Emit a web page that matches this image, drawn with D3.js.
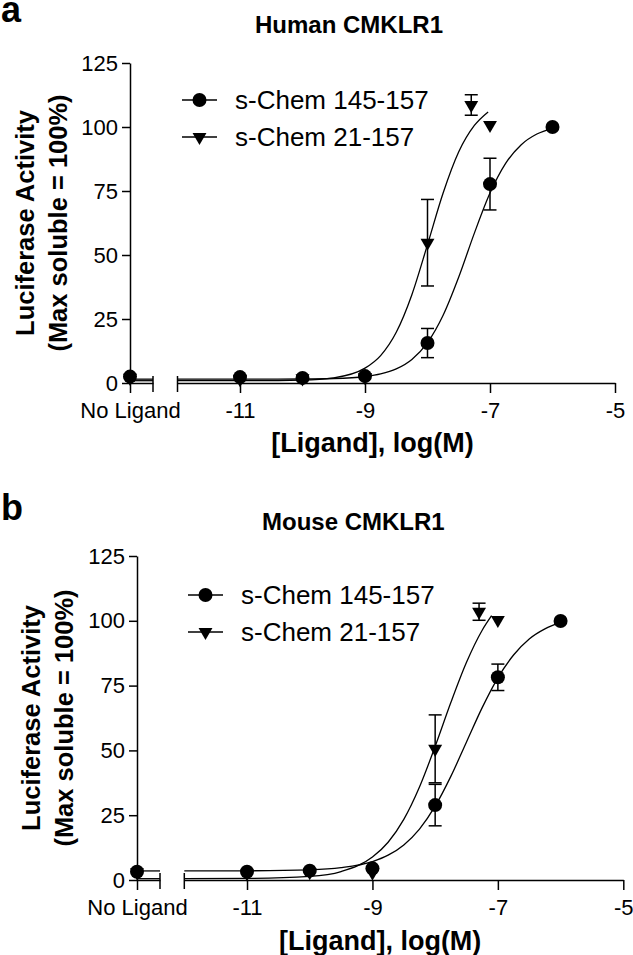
<!DOCTYPE html>
<html><head><meta charset="utf-8">
<script src="https://cdn.jsdelivr.net/npm/d3@7"></script>
<style>
html,body{margin:0;padding:0;background:#fff;}
text{font-family:"Liberation Sans",Arial,Helvetica,sans-serif;fill:#000;}
</style></head>
<body>
<svg id="chart" width="633" height="955"></svg>
<script>
// ---------- data ----------
const seriesNames = ["s-Chem 145-157", "s-Chem 21-157"];
const panelTitles = ["Human CMKLR1", "Mouse CMKLR1"];
const panelLetters = ["a", "b"];
const yTicks = [0, 25, 50, 75, 100, 125];
const xTicks = [-11, -9, -7, -5];
const noLigandLabel = "No Ligand";
const yTitleLines = ["Luciferase Activity", "(Max soluble = 100%)"];
const xTitle = "[Ligand], log(M)";

const concChem145 = [-11, -10, -9, -8, -7, -6];
const concChem21  = [-11, -10, -9, -8, -7.3, -7];

const humanNoLigand    = [2.5, 2.0];            // [145-157, 21-157]
const humanChem145Mean = [2.3, 2.0, 2.7, 15.6, 77.7, 100];
const humanChem145Err  = [0, 0, 0, 5.7, 10.1, 0];
const humanChem21Mean  = [1.5, 1.8, 2.3, 54.8, 108.6, 100.8];
const humanChem21Err   = [0, 0, 0, 16.9, 4.0, 0];

const mouseNoLigand    = [3.2, 3.0];
const mouseChem145Mean = [3.2, 3.6, 4.5, 28.9, 78.2, 99.9];
const mouseChem145Err  = [0, 0, 0, 8.0, 5.1, 0];
const mouseChem21Mean  = [2.5, 3.0, 2.8, 50.6, 103.5, 100.3];
const mouseChem21Err   = [0, 0, 0, 13.1, 3.3, 0];

// fitted curves
const humanCurve145X = [-12, -11, -10, -9.5, -9, -8.75, -8.5, -8.25, -8, -7.75, -7.5, -7.25, -7, -6.75, -6.5, -6.25, -6];
const humanCurve145Y = [1.5, 1.5, 1.57, 1.76, 2.54, 3.55, 5.51, 9.21, 15.77, 26.46, 41.4, 58.55, 74.2, 85.8, 93.1, 97.26, 99.5];
const humanCurve21X  = [-12, -11, -10, -9.5, -9, -8.75, -8.5, -8.25, -8, -7.75, -7.5, -7.25, -7.03];
const humanCurve21Y  = [0.9, 0.9, 1.16, 2.03, 5.8, 10.7, 19.8, 34.5, 54.05, 74.2, 90.3, 100.6, 105.9];

const mouseCurve145X = [-12, -11, -10, -9.5, -9, -8.75, -8.5, -8.25, -8, -7.75, -7.5, -7.25, -7, -6.75, -6.5, -6.25, -6];
const mouseCurve145Y = [3.5, 3.55, 3.92, 4.74, 7.1, 9.57, 13.54, 19.65, 28.47, 39.97, 53.25, 66.5, 78.0, 86.8, 93.0, 96.9, 99.4];
const mouseCurve21X  = [-12, -11, -10, -9.5, -9, -8.75, -8.5, -8.25, -8, -7.75, -7.5, -7.25, -7.1];
const mouseCurve21Y  = [0.51, 0.59, 1.39, 3.27, 8.84, 14.57, 23.38, 35.88, 51.54, 68.45, 83.99, 96.36, 101.96];

// ---------- layout ----------
const layouts = [
  {x0:130, seg1End:153, seg2Start:177.5, seg2End:615, yTop:63, yBottom:383,
   titleX:255, titleY:33, letterY:22, legendX:182, legendY:100, yTitleX:[34,67], xTitleY:452},
  {x0:137, seg1End:160, seg2Start:184.3, seg2End:623.3, yTop:556, yBottom:880,
   titleX:262, titleY:530, letterY:520, legendX:188, legendY:595, yTitleX:[40,73], xTitleY:950}
];

const panelData = [
  {noLig: humanNoLigand,
   series: [
     {x: concChem145, y: humanChem145Mean, e: humanChem145Err, cx: humanCurve145X, cy: humanCurve145Y, shape: "circle"},
     {x: concChem21,  y: humanChem21Mean,  e: humanChem21Err,  cx: humanCurve21X,  cy: humanCurve21Y,  shape: "triangle"}
   ]},
  {noLig: mouseNoLigand,
   series: [
     {x: concChem145, y: mouseChem145Mean, e: mouseChem145Err, cx: mouseCurve145X, cy: mouseCurve145Y, shape: "circle"},
     {x: concChem21,  y: mouseChem21Mean,  e: mouseChem21Err,  cx: mouseCurve21X,  cy: mouseCurve21Y,  shape: "triangle"}
   ]}
];

const svg = d3.select("#chart");
const SW = 1.5;
const triPath = d3.symbol().type(d3.symbolTriangle).size(84)();

function drawMarker(g, shape, x, y) {
  if (shape === "circle") {
    g.append("circle").attr("cx", x).attr("cy", y).attr("r", 7).attr("fill", "#000");
  } else {
    g.append("path").attr("d", triPath)
      .attr("transform", `translate(${x},${y}) rotate(180)`).attr("fill", "#000");
  }
}

layouts.forEach((L, pi) => {
  const P = panelData[pi];
  const g = svg.append("g");
  const y = d3.scaleLinear().domain([0, 125]).range([L.yBottom, L.yTop]);
  const x = d3.scaleLinear().domain([-12, -5]).range([L.seg2Start, L.seg2End]);
  const xNL = d3.scaleLinear().domain([0, 1]).range([L.x0, L.seg1End]);

  // y axis
  const yAx = g.append("g").attr("transform", `translate(${L.x0},0)`)
    .call(d3.axisLeft(y).tickValues(yTicks).tickSize(8).tickSizeOuter(0).tickPadding(4));
  // x axis segment 1 (No Ligand)
  const xAx1 = g.append("g").attr("transform", `translate(0,${L.yBottom})`)
    .call(d3.axisBottom(xNL).tickValues([0]).tickFormat(() => noLigandLabel).tickSize(10).tickSizeOuter(0).tickPadding(9));
  // x axis segment 2
  const xAx2 = g.append("g").attr("transform", `translate(0,${L.yBottom})`)
    .call(d3.axisBottom(x).tickValues(xTicks).tickFormat(d => String(d)).tickSize(10).tickSizeOuter(0).tickPadding(9));
  [yAx, xAx1, xAx2].forEach(a => {
    a.selectAll("path,line").attr("stroke", "#000").attr("stroke-width", SW);
    a.selectAll("text").style("font-size", "22px").attr("fill", "#000");
  });
  // break marks
  [xNL(1), x(-12)].forEach(bx => {
    g.append("line").attr("x1", bx).attr("x2", bx)
      .attr("y1", L.yBottom - 7).attr("y2", L.yBottom + 9)
      .attr("stroke", "#000").attr("stroke-width", SW);
  });

  // curves
  const line = d3.line().x(d => x(d[0])).y(d => y(d[1])).curve(d3.curveMonotoneX);
  P.series.forEach(s => {
    const pts = s.cx.map((v, i) => [v, s.cy[i]]);
    g.append("path").attr("d", line(pts)).attr("fill", "none")
      .attr("stroke", "#000").attr("stroke-width", 1.3);
    // continuation across the No Ligand segment
    g.append("line").attr("x1", xNL(0)).attr("x2", xNL(1))
      .attr("y1", y(s.cy[0])).attr("y2", y(s.cy[0]))
      .attr("stroke", "#000").attr("stroke-width", 1.3);
  });

  // error bars + markers (triangles first, circles on top)
  [1, 0].forEach(si => {
    const s = P.series[si];
    s.x.forEach((cv, i) => {
      const px = x(cv), m = s.y[i], e = s.e[i];
      if (e > 0) {
        const y1 = y(m - e), y2 = y(m + e);
        g.append("line").attr("x1", px).attr("x2", px).attr("y1", y1).attr("y2", y2)
          .attr("stroke", "#000").attr("stroke-width", SW);
        [y1, y2].forEach(yy => g.append("line").attr("x1", px - 6.5).attr("x2", px + 6.5)
          .attr("y1", yy).attr("y2", yy).attr("stroke", "#000").attr("stroke-width", SW));
      }
      drawMarker(g, s.shape, px, y(m));
    });
    drawMarker(g, s.shape, xNL(0), y(P.noLig[si]));
  });

  // legend
  seriesNames.forEach((name, i) => {
    const ly = L.legendY + i * 37;
    g.append("line").attr("x1", L.legendX).attr("x2", L.legendX + 35)
      .attr("y1", ly).attr("y2", ly).attr("stroke", "#000").attr("stroke-width", SW);
    drawMarker(g, P.series[i].shape, L.legendX + 17.5, ly);
    g.append("text").attr("x", L.legendX + 53).attr("y", ly + 9)
      .style("font-size", "26px").text(name);
  });

  // titles
  g.append("text").attr("x", L.titleX).attr("y", L.titleY)
    .style("font-size", "24px").style("font-weight", "bold").text(panelTitles[pi]);
  g.append("text").attr("x", 1).attr("y", L.letterY)
    .style("font-size", "36px").style("font-weight", "bold").text(panelLetters[pi]);
  const yc = (L.yTop + L.yBottom) / 2;
  yTitleLines.forEach((t, i) => {
    g.append("text").attr("transform", `translate(${L.yTitleX[i]},${yc}) rotate(-90)`)
      .attr("text-anchor", "middle").style("font-size", "25.5px").style("font-weight", "bold").text(t);
  });
  g.append("text").attr("x", (L.x0 + L.seg2End) / 2).attr("y", L.xTitleY)
    .attr("text-anchor", "middle").style("font-size", "27px").style("font-weight", "bold").text(xTitle);
});
</script>
</body></html>
